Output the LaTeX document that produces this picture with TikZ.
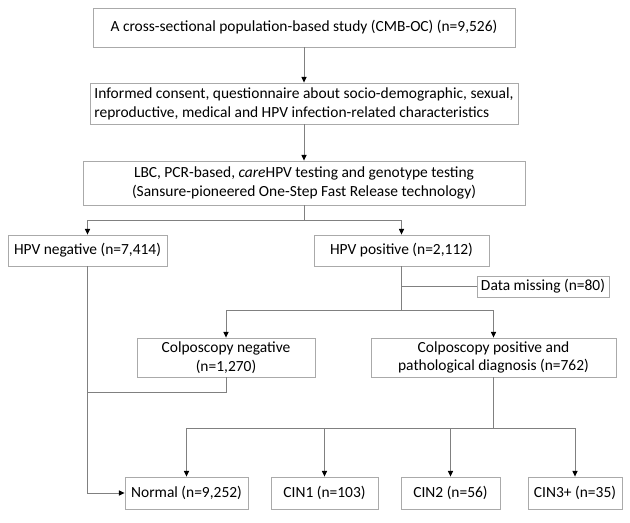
\documentclass[tikz,border=0pt]{standalone}
\usepackage{fontspec}
\setmainfont{Carlito}
\usetikzlibrary{arrows.meta}
\definecolor{linegray}{RGB}{128,128,128}
\definecolor{boxgray}{RGB}{170,170,170}

\begin{document}
\begin{tikzpicture}[x=0.025cm, y=-0.025cm,
  box/.style={draw=boxgray, line width=0.6pt, inner sep=1pt, font=\fontsize{11}{13.4}\selectfont},
  link/.style={draw=linegray, line width=0.6pt},
  arr/.style={link, -{Triangle[length=4pt,width=3.6pt,color=black]}}]
\useasboundingbox (0,0) rectangle (630,523);

\node[box, minimum width=10.55cm, minimum height=0.975cm](study) at (304,27.5) {A cross-sectional population-based study (CMB-OC) (n=9,526)};
\node[box, minimum width=10.7cm, minimum height=1.025cm, align=left](consent) at (304,103.5) {Informed consent, questionnaire about socio-demographic, sexual,\\reproductive, medical and HPV infection-related characteristics};
\node[box, minimum width=11.05cm, minimum height=1.1cm, align=center](testing) at (304,183) {LBC, PCR-based, \textit{care}HPV testing and genotype testing\\(Sansure-pioneered One-Step Fast Release technology)};

\node[box, minimum width=3.975cm, minimum height=0.775cm](hpvneg) at (87.5,250.5) {HPV negative (n=7,414)};
\node[box, minimum width=4.375cm, minimum height=0.775cm](hpvpos) at (401.5,250.5) {HPV positive (n=2,112)};
\node[box, minimum width=3.3cm, minimum height=0.525cm](missing) at (543,286.5) {Data missing (n=80)};

\node[box, minimum width=4.45cm, minimum height=0.975cm, align=center](colpneg) at (226,357.5) {Colposcopy negative\\(n=1,270)};
\node[box, minimum width=6.125cm, minimum height=0.975cm, align=center](colppos) at (493.5,357.5) {Colposcopy positive and\\pathological diagnosis (n=762)};

\node[box, minimum width=3.075cm, minimum height=0.8cm](normal) at (186.5,493) {Normal (n=9,252)};
\node[box, minimum width=2.675cm, minimum height=0.8cm](cin1) at (324.5,493) {CIN1 (n=103)};
\node[box, minimum width=2.475cm, minimum height=0.8cm](cin2) at (450.5,493) {CIN2 (n=56)};
\node[box, minimum width=2.35cm, minimum height=0.8cm](cin3) at (575,493) {CIN3+ (n=35)};

\coordinate (split1) at (304,220);
\coordinate (split2) at (401.5,310);
\coordinate (join) at (87.5,392);
\coordinate (split3) at (493.5,428);

\draw[arr] (study) to (consent);
\draw[arr] (consent) to (testing);

\draw[link] (testing) to (split1);
\draw[arr] (split1) -| (hpvneg);
\draw[arr] (split1) -| (hpvpos);

\draw[link] (hpvpos) to (split2);
\draw[link] (hpvpos.south |- missing) to (missing);
\draw[arr] (split2) -| (colpneg);
\draw[arr] (split2) -| (colppos);

\draw[arr] (hpvneg) |- (normal);
\draw[link] (colpneg) |- (join);

\draw[link] (colppos) to (split3);
\draw[arr] (split3) -| (normal);
\draw[arr] (split3) -| (cin1);
\draw[arr] (split3) -| (cin2);
\draw[arr] (split3) -| (cin3);

\end{tikzpicture}
\end{document}
